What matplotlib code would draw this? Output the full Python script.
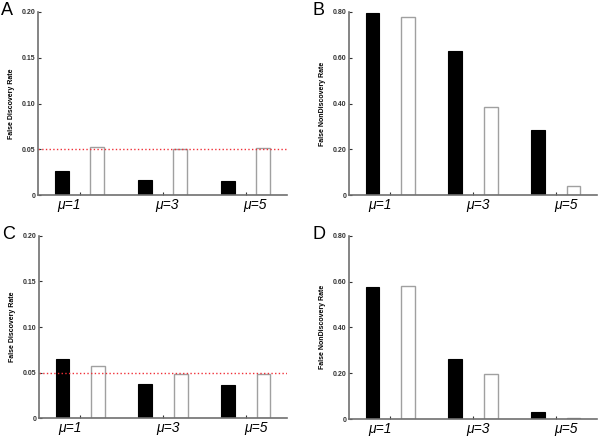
import numpy as np
import matplotlib
matplotlib.use("Agg")
import matplotlib.pyplot as plt

plt.rcParams['font.family'] = ['Liberation Sans', 'DejaVu Sans']

groups = ['μ=1', 'μ=3', 'μ=5']

# bar heights per panel: black bars, white bars
fdr_a_black = [0.0266, 0.016, 0.0153]
fdr_a_white = [0.052, 0.050, 0.051]
fndr_b_black = [0.795, 0.630, 0.282]
fndr_b_white = [0.780, 0.383, 0.039]
fdr_c_black = [0.065, 0.038, 0.036]
fdr_c_white = [0.057, 0.049, 0.049]
fndr_d_black = [0.577, 0.263, 0.030]
fndr_d_white = [0.582, 0.195, 0.006]

fdr_ticks = [0, 0.05, 0.10, 0.15, 0.20]
fdr_ticklabels = ['0', '0.05', '0.10', '0.15', '0.20']
fndr_ticks = [0, 0.2, 0.4, 0.6, 0.8]
fndr_ticklabels = ['0', '0.20', '0.40', '0.60', '0.80']

target_level = 0.05

fig = plt.figure(figsize=(6, 4.37), dpi=100)

positions = {
    'A': [38/600, 1-195/437, 249/600, 183/437],
    'B': [349/600, 1-195/437, 248/600, 183/437],
    'C': [39/600, 1-418.3/437, 248/600, 182.6/437],
    'D': [349/600, 1-419/437, 248/600, 183.3/437],
}

panels = [
    ('A', fdr_a_black, fdr_a_white, fdr_ticks, fdr_ticklabels, 'False Discovery Rate', True),
    ('B', fndr_b_black, fndr_b_white, fndr_ticks, fndr_ticklabels, 'False NonDiscovery Rate', False),
    ('C', fdr_c_black, fdr_c_white, fdr_ticks, fdr_ticklabels, 'False Discovery Rate', True),
    ('D', fndr_d_black, fndr_d_white, fndr_ticks, fndr_ticklabels, 'False NonDiscovery Rate', False),
]

x = np.arange(1, len(groups) + 1)
label_x = [0.88, 2.06, 3.12]
spine_col = '#707070'

for letter, black, white, ticks, ticklabels, ylab, show_line in panels:
    ax = fig.add_axes(positions[letter])
    ax.bar(x - 0.214, black, width=0.165, color='black', edgecolor='black', linewidth=0.8)
    ax.bar(x + 0.214, white, width=0.165, color='white', edgecolor='#a0a0a0', linewidth=1.0)
    if show_line:
        ax.axhline(target_level, color='#f03038', linestyle=':', linewidth=1.0)
    ax.set_xlim(0.5, 3.5)
    ax.set_ylim(0, ticks[-1])
    ax.set_yticks(ticks)
    ax.set_yticklabels(ticklabels, fontsize=5, fontweight='bold', color='#222222')
    ax.set_xticks(x)
    ax.set_xticklabels([])
    ax.tick_params(axis='both', direction='in', length=2.5, width=0.8, colors='#333333', pad=2)
    for s in ['top', 'right']:
        ax.spines[s].set_visible(False)
    for s in ['left', 'bottom']:
        ax.spines[s].set_color(spine_col)
        ax.spines[s].set_linewidth(1.2)
    ax.set_ylabel(ylab, fontsize=5, fontweight='bold', labelpad=5)
    for lx, g in zip(label_x, groups):
        ax.text(lx, -0.055 * ticks[-1], g, fontsize=10, style='italic',
                ha='center', va='center', transform=ax.transData)
    bb = positions[letter]
    fig.text(bb[0] - 37/600, bb[1] + bb[3] + 10/437, letter, fontsize=13,
             ha='left', va='top')

fig.savefig('out.png', dpi=100)
